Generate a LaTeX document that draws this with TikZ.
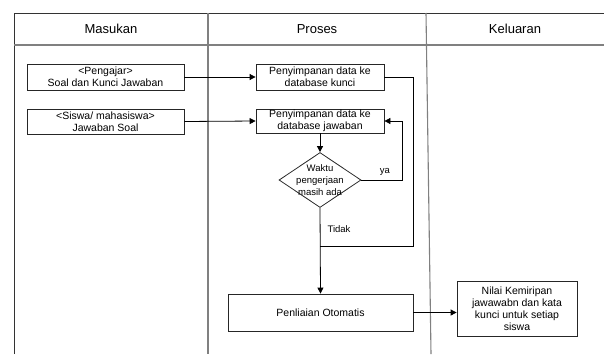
\documentclass[tikz,border=0pt]{standalone}
\usepackage{fontspec}
\setmainfont{Liberation Sans}
\usetikzlibrary{arrows.meta,shapes.geometric}
\begin{document}
\begin{tikzpicture}[x=1pt,y=-1pt,
  box/.style={draw=black!85,line width=0.8pt,fill=white,inner sep=1pt,font=\fontsize{10.5}{12}\selectfont,align=center},
  dec/.style={draw=black!85,line width=0.8pt,diamond,inner sep=0pt},
  dectext/.style={inner sep=0pt,font=\fontsize{9.5}{12}\selectfont,align=center},
  conn/.style={line width=0.8pt,black},
  arr/.style={conn,-{Triangle[length=6pt,width=6pt]}},
  hdr/.style={font=\fontsize{13}{15}\selectfont},
  lbl/.style={font=\fontsize{9.5}{11}\selectfont},
  frame/.style={line width=1pt,black!80},
  lane/.style={line width=1.1pt,black!50}]
\useasboundingbox (0,0) rectangle (604,354);
% frame
\draw[frame] (14,354) -- (14,13) -- (604,13);
\draw[lane] (14,45) -- (604,45);
\draw[lane] (208,13) -- (208,354);
\draw[lane] (426,13) -- (431,354);
\node[hdr] (hm) at (111,29) {Masukan};
\node[hdr] (hp) at (317,29) {Proses};
\node[hdr] (hk) at (515,29) {Keluaran};
% nodes
\node[box,minimum width=157pt,minimum height=26pt] (in1) at (105.5,77) {<Pengajar>\\Soal dan Kunci Jawaban};
\node[box,minimum width=157pt,minimum height=25pt] (in2) at (105.5,121.5) {<Siswa/ mahasiswa>\\Jawaban Soal};
\node[box,minimum width=128pt,minimum height=26pt] (p1) at (320,77) {Penyimpanan data ke\\database kunci};
\node[box,minimum width=128pt,minimum height=24pt] (p2) at (320,121) {Penyimpanan data ke\\database jawaban};
\node[dec,minimum width=82pt,minimum height=55pt] (d) at (320,180) {};
\node[dectext] (dt) at (320,180) {Waktu\\pengerjaan\\masih ada};
\node[box,minimum width=185pt,minimum height=37pt] (pen) at (320.5,312.5) {Penliaian Otomatis};
\node[box,minimum width=120pt,minimum height=55pt] (out) at (517,308.5) {Nilai Kemiripan\\jawawabn dan kata\\kunci untuk setiap\\siswa};
\coordinate (j) at (320,246);
% connectors
\draw[arr] (in1.east) -- (p1.west);
\draw[arr] (in2.east) -- (p2.west);
\draw[conn] (p1.east) -- (413,77) -- (413,246) -- (j);
\draw[arr] (p2.south) -- (d.north);
\draw[arr] (d.east) -- (402,180) -- (402,121) -- (p2.east);
\draw[arr] (d.south) -- (pen.north);
\draw[arr] (pen.east) -- (pen.east -| out.west);
\node[lbl] (ya) at (385,172) {ya};
\node[lbl] (tidak) at (339,229) {Tidak};
\end{tikzpicture}
\end{document}
